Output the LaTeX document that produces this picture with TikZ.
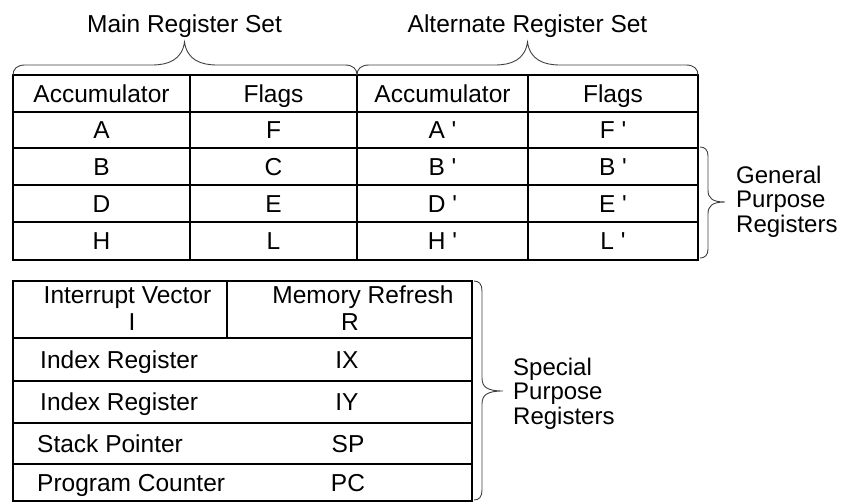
\documentclass[tikz,border=0pt]{standalone}
\usepackage{fontspec}
\setmainfont{Liberation Sans}
\newcommand{\pr}{\ \textquotesingle}
\begin{document}
\begin{tikzpicture}[x=1pt,y=-1pt,
  grid/.style={line width=1.25pt, black},
  brc/.style={line width=0.9pt, black!75},
  cell/.style={font=\fontsize{24.5}{26}\selectfont, inner sep=0pt, text height=17.5pt, text depth=0pt},
  lcell/.style={cell, anchor=west},
  lbl/.style={font=\fontsize{24}{24.5}\selectfont, inner sep=0pt, align=left, anchor=west}]
\useasboundingbox (0,0) rectangle (843,503);

% ---------- top table ----------
\draw[grid] (13,75) rectangle (698,260);
\foreach \y in {112,148,185,222} \draw[grid] (13,\y) -- (698,\y);
\foreach \x in {190,357,528} \draw[grid] (\x,75) -- (\x,260);

% braces over the table
\draw[brc] (13,75) .. controls (13,69) and (17,65) .. (25,65) -- (152,65)
  .. controls (168,65) and (182,60) .. (184.5,42)
  .. controls (187,60) and (201,65) .. (217,65) -- (345,65)
  .. controls (353,65) and (357,69) .. (357,75);
\draw[brc] (357,75) .. controls (357,69) and (361,65) .. (369,65) -- (495,65)
  .. controls (511,65) and (525,60) .. (527.5,42)
  .. controls (530,60) and (544,65) .. (560,65) -- (686,65)
  .. controls (694,65) and (698,69) .. (698,75);

\node[cell] (mrs) at (184.5,23.5) {Main Register Set};
\node[cell] (ars) at (527.5,23.5) {Alternate Register Set};

\node[cell] (h1) at (101.5,93.5) {Accumulator};
\node[cell] (h2) at (273.5,93.5) {Flags};
\node[cell] (h3) at (442.5,93.5) {Accumulator};
\node[cell] (h4) at (613,93.5) {Flags};

\node[cell] (a1) at (101.5,130) {A};
\node[cell] (a2) at (273.5,130) {F};
\node[cell] (a3) at (442.5,130) {A\pr};
\node[cell] (a4) at (613,130) {F\pr};

\node[cell] (b1) at (101.5,166.5) {B};
\node[cell] (b2) at (273.5,166.5) {C};
\node[cell] (b3) at (442.5,166.5) {B\pr};
\node[cell] (b4) at (613,166.5) {B\pr};

\node[cell] (d1) at (101.5,203.5) {D};
\node[cell] (d2) at (273.5,203.5) {E};
\node[cell] (d3) at (442.5,203.5) {D\pr};
\node[cell] (d4) at (613,203.5) {E\pr};

\node[cell] (e1) at (101.5,241) {H};
\node[cell] (e2) at (273.5,241) {L};
\node[cell] (e3) at (442.5,241) {H\pr};
\node[cell] (e4) at (613,241) {L\pr};

% general purpose brace
\draw[brc] (700,147) .. controls (705,147) and (708,150) .. (708,156) -- (708,190)
  .. controls (708,198) and (712,202) .. (725,202)
  .. controls (712,202) and (708,206) .. (708,214) -- (708,249)
  .. controls (708,255) and (705,258) .. (700,258);
\node[lbl] (gpr) at (736,201.5) {General\\Purpose\\Registers};

% ---------- bottom table ----------
\draw[grid] (13,281) rectangle (472,501);
\foreach \y in {338,381,423,464} \draw[grid] (13,\y) -- (472,\y);
\draw[grid] (227,281) -- (227,338);

\node[cell] (iv) at (127.5,294.5) {Interrupt Vector};
\node[cell] (iv2) at (132,321.5) {I};
\node[cell] (mr) at (363,294.5) {Memory Refresh};
\node[cell] (mr2) at (350,321.5) {R};

\node[lcell] (ix1) at (40,359.5) {Index Register};
\node[cell] (ix2) at (347,359.5) {IX};
\node[lcell] (iy1) at (40,402) {Index Register};
\node[cell] (iy2) at (347,402) {IY};
\node[lcell] (sp1) at (37,443.5) {Stack Pointer};
\node[cell] (sp2) at (348,443.5) {SP};
\node[lcell] (pc1) at (37,482.5) {Program Counter};
\node[cell] (pc2) at (348,482.5) {PC};

% special purpose brace
\draw[brc] (474,281) .. controls (479,281) and (482,284) .. (482,291) -- (482,378)
  .. controls (482,387) and (487,391) .. (503,391)
  .. controls (487,391) and (482,395) .. (482,404) -- (482,490)
  .. controls (482,497) and (479,500) .. (474,500);
\node[lbl] (spr) at (513,393.4) {Special\\Purpose\\Registers};
\end{tikzpicture}
\end{document}
